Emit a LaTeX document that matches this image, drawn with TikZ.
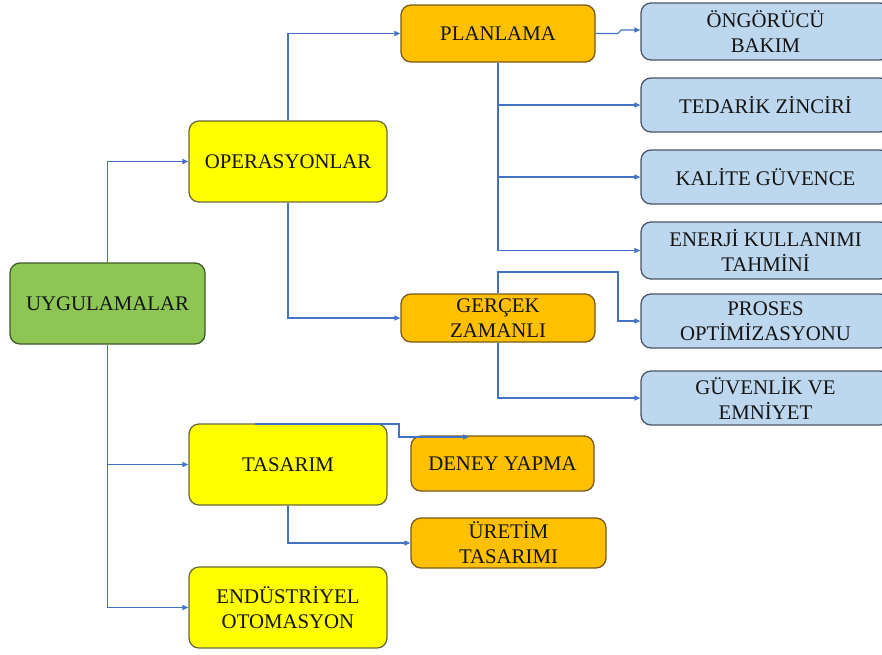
\documentclass[tikz,border=0pt]{standalone}
\usepackage{fontspec}
\setmainfont{Liberation Serif}
\usetikzlibrary{arrows.meta,calc}
\definecolor{lineblue}{HTML}{4472C4}
\definecolor{gfill}{HTML}{8DC655}
\definecolor{gdraw}{HTML}{3E5A2A}
\definecolor{yfill}{HTML}{FFFF00}
\definecolor{ydraw}{HTML}{6B6B3A}
\definecolor{ofill}{HTML}{FFC000}
\definecolor{odraw}{HTML}{7A5A1A}
\definecolor{bfill}{HTML}{BDD7EE}
\definecolor{bdraw}{HTML}{4A5668}
\definecolor{txt}{HTML}{141414}
\tikzset{
  box/.style={rounded corners=10pt, line width=1.3pt, align=center, inner sep=0pt,
    font=\fontsize{20.8}{25}\selectfont, text=txt},
  gbox/.style={box, fill=gfill, draw=gdraw},
  ybox/.style={box, fill=yfill, draw=ydraw},
  obox/.style={box, fill=ofill, draw=odraw},
  bbox/.style={box, fill=bfill, draw=bdraw},
  arr/.style={draw=lineblue, line width=1.1pt, -{Triangle[length=6pt,width=5pt]}},
  ln/.style={draw=lineblue, line width=1.1pt}
}
\begin{document}
\begin{tikzpicture}[x=1pt,y=-1pt]
\useasboundingbox (0,0) rectangle (882,654);
\fill[white] (0,0) rectangle (882,654);
% left column
\node[gbox, minimum width=195pt, minimum height=81pt] (uyg) at (107.5,303.5) {UYGULAMALAR};
\node[ybox, minimum width=198pt, minimum height=81pt] (ops) at (288,161.5) {OPERASYONLAR};
\node[ybox, minimum width=198pt, minimum height=81pt] (tas) at (288,464.5) {TASARIM};
\node[ybox, minimum width=198pt, minimum height=81pt] (endu) at (288,607.5) {ENDÜSTRİYEL\\OTOMASYON};
% middle column
\node[obox, minimum width=194pt, minimum height=57pt] (plan) at (498,33.5) {PLANLAMA};
\node[obox, minimum width=194pt, minimum height=48pt] (ger) at (498,318) {GERÇEK\\ZAMANLI};
\node[obox, minimum width=183pt, minimum height=55pt] (den) at (502.5,463.5) {DENEY YAPMA};
\node[obox, minimum width=195pt, minimum height=50pt] (ure) at (508.5,543) {ÜRETİM\\TASARIMI};
% right column
\node[bbox, minimum width=249pt, minimum height=57pt] (ong) at (765.5,31.5) {ÖNGÖRÜCÜ\\BAKIM};
\node[bbox, minimum width=249pt, minimum height=54pt] (ted) at (765.5,105) {TEDARİK ZİNCİRİ};
\node[bbox, minimum width=249pt, minimum height=54pt] (kal) at (765.5,177) {KALİTE GÜVENCE};
\node[bbox, minimum width=249pt, minimum height=57pt] (ene) at (765.5,250.5) {ENERJİ KULLANIMI\\TAHMİNİ};
\node[bbox, minimum width=249pt, minimum height=54pt] (pro) at (765.5,321) {PROSES\\OPTİMİZASYONU};
\node[bbox, minimum width=249pt, minimum height=54pt] (guv) at (765.5,398) {GÜVENLİK VE\\EMNİYET};
% connectors
\draw[arr] (uyg.north) |- (ops.west);
\draw[arr] (uyg.south) |- (tas.west);
\draw[arr] (uyg.south) |- (endu.west);
\draw[arr] (ops.north) |- (plan.west);
\draw[arr] (ops.south) |- (ger.west);
\coordinate (pj) at (618,33.5);
\coordinate (pj2) at (621,30);
\draw[arr] (plan.east) -- (pj) -- (pj2) -- (ong.west |- pj2);
\draw[arr] (plan.south) |- (ted.west);
\draw[arr] (plan.south) |- (kal.west);
\draw[arr] (plan.south) |- (ene.west);
\coordinate (gk) at (618,272);
\draw[arr] (ger.north) |- (gk) |- (pro.west);
\draw[arr] (ger.south) |- (guv.west);
\coordinate (t1) at (255,424);
\coordinate (t2) at (399,424);
\coordinate (t3) at (399,437);
\coordinate (t4) at (469,437);
\draw[arr] (t1) -- (t2) -- (t3) -- (t4);
\draw[arr] (tas.south) |- (ure.west);
\end{tikzpicture}
\end{document}
